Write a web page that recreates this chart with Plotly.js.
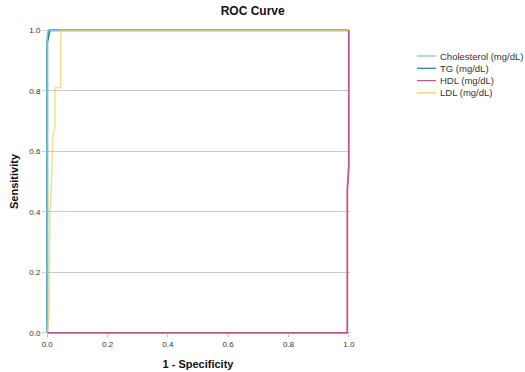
<!DOCTYPE html>
<html>
<head>
<meta charset="utf-8">
<script src="https://cdn.plot.ly/plotly-3.0.1.min.js"></script>
<style>html,body{margin:0;padding:0;background:#fff;}#chart{width:525px;height:372px;}</style>
</head>
<body>
<div id="chart"></div>
<script>
// ROC curve data (1 - Specificity, Sensitivity)
const seriesNames = ["Cholesterol (mg/dL)", "TG (mg/dL)", "HDL (mg/dL)", "LDL (mg/dL)"];
const cholFpr = [0, 0, 0.004, 1];
const cholTpr = [0, 0.98, 1, 1];
const tgFpr = [0, 0, 0.008, 1];
const tgTpr = [0, 0.96, 1, 1];
const hdlFpr = [0, 0.995, 0.995, 1, 1];
const hdlTpr = [0, 0, 0.47, 0.55, 1];
const ldlFpr = [0, 0.006, 0.009, 0.015, 0.018, 0.02, 0.026, 0.026, 0.045, 0.045, 1];
const ldlTpr = [0, 0.06, 0.40, 0.52, 0.64, 0.66, 0.68, 0.81, 0.81, 1, 1];
const xTicks = [0, 0.2, 0.4, 0.6, 0.8, 1.0];
const yTicks = [0, 0.2, 0.4, 0.6, 0.8, 1.0];

const colors = ["#7cc0e8", "#1f7b8e", "#c4558a", "#f0cf45"];

const traces = [
  {x: tgFpr, y: tgTpr, name: seriesNames[1], mode: "lines", line: {color: colors[1], width: 2}},
  {x: cholFpr, y: cholTpr, name: seriesNames[0], mode: "lines", line: {color: colors[0], width: 1.5}},
  {x: hdlFpr, y: hdlTpr, name: seriesNames[2], mode: "lines", line: {color: colors[2], width: 1.8}},
  {x: ldlFpr, y: ldlTpr, name: seriesNames[3], mode: "lines", line: {color: colors[3], width: 1.5}, opacity: 0.65}
];

const font = "Liberation Sans, Arial, sans-serif";
const W = 525, H = 372, L = 46, R = 175, T = 29, B = 38;
const pw = W - L - R, ph = H - T - B;
const px2x = p => (p - L) / pw;
const px2y = p => (H - B - p) / ph;

// custom compact legend built from series names / colours
const legendTop = 56, legendStep = 12.3;
const shapes = [], annotations = [];
seriesNames.forEach((n, i) => {
  const yy = px2y(legendTop + i * legendStep);
  shapes.push({type: "line", xref: "paper", yref: "paper", x0: px2x(417), x1: px2x(436), y0: yy, y1: yy,
               line: {color: colors[i], width: 1.2}});
  annotations.push({xref: "paper", yref: "paper", x: px2x(438), y: yy, xanchor: "left", yanchor: "middle",
                    text: n, showarrow: false, font: {family: font, size: 9.5, color: "#333"}});
});

const layout = {
  width: W, height: H,
  margin: {l: L, r: R, t: T, b: B},
  paper_bgcolor: "#fff", plot_bgcolor: "#fff",
  font: {family: font, size: 9, color: "#333"},
  title: {text: "<b>ROC Curve</b>", font: {family: font, size: 12, color: "#111"},
          xref: "paper", x: 0.68, xanchor: "center", yref: "container", y: 0.972, yanchor: "middle"},
  xaxis: {range: [-0.004, 1.004], tickvals: xTicks, tickformat: ".1f", showgrid: false, zeroline: false,
          showline: false, ticks: "outside", ticklen: 2, tickcolor: "#aaa",
          tickfont: {size: 8, color: "#333"},
          title: {text: "<b>1 - Specificity</b>", font: {family: font, size: 11, color: "#111"}, standoff: 12}},
  yaxis: {range: [-0.004, 1.004], tickvals: yTicks, tickformat: ".1f", showgrid: true, gridcolor: "#c8c8c8", gridwidth: 1,
          zeroline: false, showline: false, ticks: "outside", ticklen: 3, tickcolor: "#c8c8c8",
          tickfont: {size: 8, color: "#333"},
          title: {text: "<b>Sensitivity</b>", font: {family: font, size: 11, color: "#111"}, standoff: 8}},
  showlegend: false,
  shapes: shapes,
  annotations: annotations
};

Plotly.newPlot("chart", traces, layout, {displayModeBar: false, staticPlot: true});
</script>
</body>
</html>
